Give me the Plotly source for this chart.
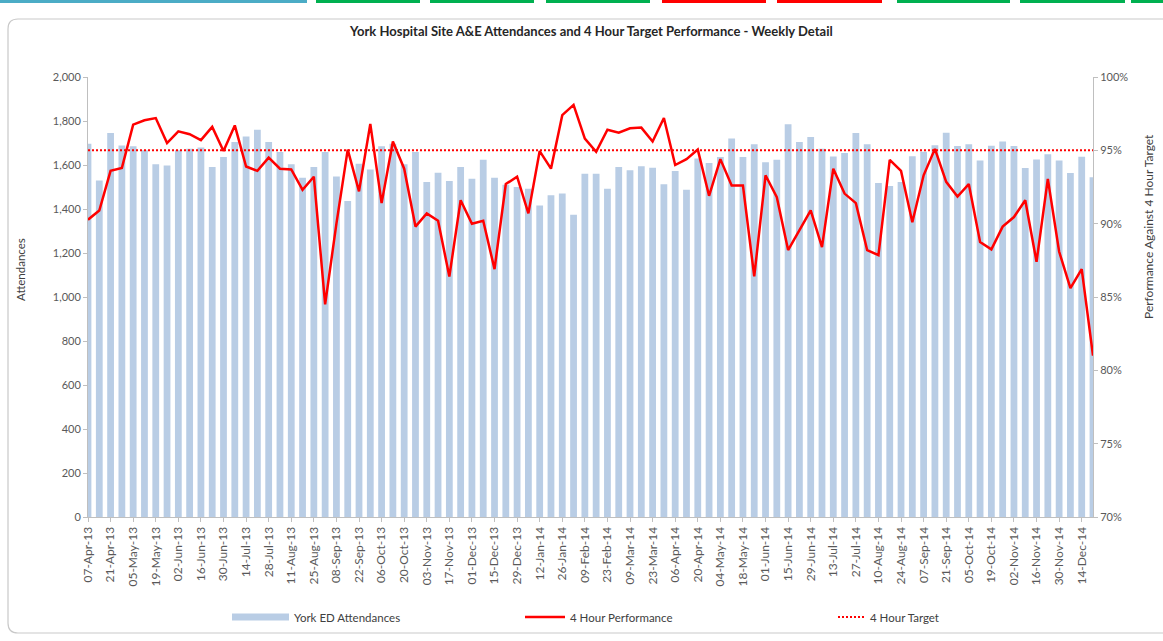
import plotly.graph_objects as go
import pandas as pd

# ---------------- data ----------------
weeks = pd.date_range("2013-04-07", periods=90, freq="7D")
week_labels = [d.strftime("%d-%b-%y") for d in weeks]
tick_labels = week_labels[::2]

attendances = [
    1697, 1530, 1745, 1689, 1685, 1667, 1603, 1598, 1667, 1674,
    1679, 1591, 1636, 1704, 1730, 1760, 1704, 1659, 1603, 1542,
    1591, 1659, 1548, 1436, 1606, 1579, 1685, 1697, 1603, 1659,
    1523, 1565, 1527, 1591, 1538, 1624, 1542, 1510, 1500, 1492,
    1416, 1462, 1470, 1374, 1560, 1560, 1492, 1591, 1576, 1594,
    1588, 1512, 1573, 1488, 1630, 1609, 1636, 1720, 1636, 1694,
    1613, 1624, 1785, 1704, 1727, 1674, 1639, 1654, 1745, 1694,
    1518, 1505, 1523, 1640, 1660, 1690, 1747, 1686, 1694, 1620,
    1688, 1707, 1686, 1586, 1625, 1649, 1621, 1564, 1637, 1544,
]

performance = [
    90.27, 90.9, 93.6, 93.8, 96.75, 97.05, 97.2, 95.5, 96.3, 96.1,
    95.7, 96.6, 94.95, 96.7, 93.9, 93.6, 94.5, 93.75, 93.7, 92.3,
    93.2, 84.5, 90.0, 95.05, 92.2, 96.8, 91.4, 95.6, 93.75, 89.8,
    90.7, 90.2, 86.4, 91.6, 90.0, 90.2, 86.9, 92.7, 93.2, 90.7,
    94.95, 93.75, 97.4, 98.1, 95.8, 94.9, 96.4, 96.2, 96.5, 96.55,
    95.6, 97.2, 94.0, 94.4, 95.05, 91.9, 94.4, 92.6, 92.6, 86.4,
    93.3, 91.8, 88.2, 89.55, 90.9, 88.4, 93.75, 92.05, 91.4, 88.2,
    87.85, 94.35, 93.6, 90.1, 93.3, 95.1, 92.85, 91.85, 92.7, 88.75,
    88.25, 89.8, 90.45, 91.6, 87.4, 93.05, 88.1, 85.6, 86.9, 81.0,
]

target_value = 95
target = [target_value] * len(week_labels)

# ---------------- layout helpers ----------------
W, H = 1163, 641
PL, PR, PT, PB = 88, 1093, 77, 517  # plot area in pixels


def xp(px):
    return (px - PL) / (PR - PL)


def yp(py):
    return (PB - py) / (PB - PT)


AXIS_GREY = "#BFBFBF"
TEXT_GREY = "#595959"
FONT = "Lato"

fig = go.Figure()

fig.add_trace(go.Bar(
    x=week_labels, y=attendances, name="York ED Attendances",
    marker=dict(color="#B9CDE5", line=dict(width=0)),
    yaxis="y",
))
fig.add_trace(go.Scatter(
    x=week_labels, y=target, name="4 Hour Target", mode="lines",
    line=dict(color="#FF0000", width=2, dash="2px,2px"),
    yaxis="y2",
))
fig.add_trace(go.Scatter(
    x=week_labels, y=performance, name="4 Hour Performance", mode="lines",
    line=dict(color="#FF0000", width=2.5),
    yaxis="y2",
))

shapes = []
# chart-area border with rounded top-left corner
r_x, r_y = 10 / (PR - PL), 10 / (PB - PT)
x0, y0, x1, y1 = xp(8), yp(633), xp(1175), yp(19)
shapes.append(dict(
    type="path", xref="paper", yref="paper", layer="below",
    path=(f"M {x1},{y0} L {x0 + r_x},{y0} Q {x0},{y0} {x0},{y0 + r_y} "
          f"L {x0},{y1 - r_y} Q {x0},{y1} {x0 + r_x},{y1} L {x1},{y1}"),
    line=dict(color="#C9C9C9", width=1.2),
))
# top coloured strips (page decoration)
strips = [(0, 307, "#4BACC6"), (316, 420, "#00B050"), (430, 534, "#00B050"),
          (546, 650, "#00B050"), (662, 766, "#FF0000"), (777, 882, "#FF0000"),
          (897, 1010, "#00B050"), (1020, 1125, "#00B050"), (1131, 1170, "#00B050")]
for a, b, c in strips:
    shapes.append(dict(type="rect", xref="paper", yref="paper",
                       x0=xp(a), x1=xp(b), y0=yp(3), y1=yp(0),
                       fillcolor=c, line=dict(width=0), layer="below"))

# custom legend
LY = 617
shapes.append(dict(type="rect", xref="paper", yref="paper",
                   x0=xp(232), x1=xp(289), y0=yp(LY + 3.5), y1=yp(LY - 3.5),
                   fillcolor="#B9CDE5", line=dict(width=0)))
shapes.append(dict(type="line", xref="paper", yref="paper",
                   x0=xp(525), x1=xp(565), y0=yp(LY), y1=yp(LY),
                   line=dict(color="#FF0000", width=2.5)))
shapes.append(dict(type="line", xref="paper", yref="paper",
                   x0=xp(838), x1=xp(864), y0=yp(LY), y1=yp(LY),
                   line=dict(color="#FF0000", width=2, dash="2px,2px")))

annotations = [
    dict(text="<b>York Hospital Site A&amp;E Attendances and 4 Hour Target Performance - Weekly Detail</b>",
         x=xp(591), y=yp(31), xref="paper", yref="paper", showarrow=False,
         xanchor="center", yanchor="middle", font=dict(size=13, color="#262626", family=FONT)),
    dict(text="Attendances", x=xp(20), y=yp(270), xref="paper", yref="paper",
         showarrow=False, textangle=-90, xanchor="center", yanchor="middle",
         font=dict(size=11.5, color="#404040", family=FONT)),
    dict(text="Performance Against 4 Hour Target", x=xp(1148), y=yp(227),
         xref="paper", yref="paper", showarrow=False, textangle=-90,
         xanchor="center", yanchor="middle",
         font=dict(size=12, color="#404040", family=FONT)),
    dict(text="York ED Attendances", x=xp(292), y=yp(LY), xref="paper", yref="paper",
         showarrow=False, xanchor="left", yanchor="middle",
         font=dict(size=11.5, color="#404040", family=FONT)),
    dict(text="4 Hour Performance", x=xp(568), y=yp(LY), xref="paper", yref="paper",
         showarrow=False, xanchor="left", yanchor="middle",
         font=dict(size=11.5, color="#404040", family=FONT)),
    dict(text="4 Hour Target", x=xp(868), y=yp(LY), xref="paper", yref="paper",
         showarrow=False, xanchor="left", yanchor="middle",
         font=dict(size=11.5, color="#404040", family=FONT)),
]

fig.update_layout(
    width=W, height=H,
    margin=dict(l=PL, r=W - PR, t=PT, b=H - PB, pad=0),
    paper_bgcolor="white", plot_bgcolor="white",
    showlegend=False, bargap=0.4,
    font=dict(family=FONT, color=TEXT_GREY, size=11),
    shapes=shapes, annotations=annotations,
    xaxis=dict(
        type="category", range=[0, len(week_labels) - 1],
        tickmode="array", tickvals=tick_labels, ticktext=tick_labels,
        tickangle=-90, tickfont=dict(size=12, color=TEXT_GREY, family=FONT),
        showline=True, linecolor=AXIS_GREY, linewidth=1,
        ticks="outside", ticklen=4, tickcolor=AXIS_GREY,
        showgrid=False, zeroline=False, fixedrange=True,
    ),
    yaxis=dict(
        range=[0, 2000], dtick=200, tickformat=",d",
        tickfont=dict(size=11, color=TEXT_GREY, family=FONT),
        showline=True, linecolor=AXIS_GREY, linewidth=1,
        ticks="outside", ticklen=4, tickcolor=AXIS_GREY,
        showgrid=False, zeroline=False,
    ),
    yaxis2=dict(
        range=[70, 100], dtick=5, ticksuffix="%", overlaying="y", side="right",
        tickfont=dict(size=11, color=TEXT_GREY, family=FONT),
        showline=True, linecolor=AXIS_GREY, linewidth=1,
        ticks="outside", ticklen=4, tickcolor=AXIS_GREY,
        showgrid=False, zeroline=False,
    ),
)

fig.write_html("out.html", config={"displayModeBar": False},
               post_script="document.body.style.margin='0';")
